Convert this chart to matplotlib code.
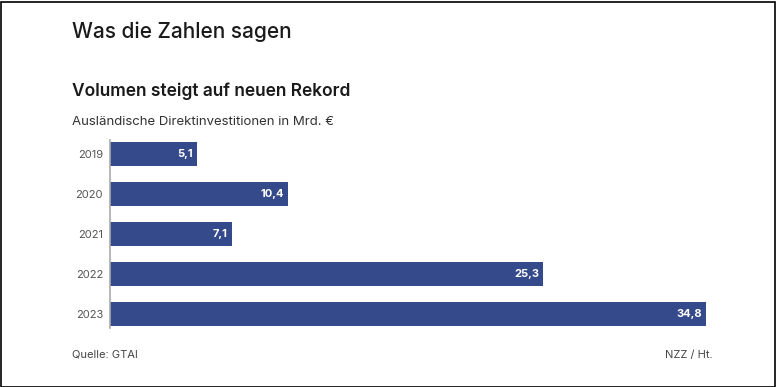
import matplotlib.pyplot as plt
from matplotlib.patches import Rectangle

years = ["2019", "2020", "2021", "2022", "2023"]
values = [5.1, 10.4, 7.1, 25.3, 34.8]
labels = ["5,1", "10,4", "7,1", "25,3", "34,8"]

plt.rcParams['font.family'] = ['Inter', 'DejaVu Sans']

W, H = 776, 387
fig = plt.figure(figsize=(W / 100, H / 100), dpi=100)

# axes in pixel coords
left, right, top, bottom = 110, 706, 140, 328
ax = fig.add_axes([left / W, 1 - bottom / H, (right - left) / W, (bottom - top) / H])

pos = list(range(len(years)))
ax.barh(pos, values, height=0.6, color="#344a8b")
ax.set_xlim(0, 34.8)
ax.set_ylim(4.35, -0.35)

for p, v, lab in zip(pos, values, labels):
    ax.text(v - 0.25, p, lab, color="white", fontsize=8, fontweight="bold",
            ha="right", va="center")

ax.set_yticks(pos)
ax.set_yticklabels(years, fontsize=8, color="#555555")
ax.tick_params(axis="y", length=0, pad=5)
ax.set_xticks([])
for s in ["top", "right", "bottom"]:
    ax.spines[s].set_visible(False)
ax.spines["left"].set_color("#aaaaaa")
ax.spines["left"].set_linewidth(1.2)

fig.text(72 / W, 1 - 32 / H, "Was die Zahlen sagen", fontsize=15, color="#1a1a1a",
         va="center", ha="left", fontweight="medium")
fig.text(72 / W, 1 - 91 / H, "Volumen steigt auf neuen Rekord", fontsize=12.5,
         color="#1a1a1a", va="center", ha="left", fontweight="semibold")
fig.text(72 / W, 1 - 122 / H, "Ausländische Direktinvestitionen in Mrd. €", fontsize=9.5,
         color="#333333", va="center", ha="left")
fig.text(72 / W, 1 - 355 / H, "Quelle: GTAI", fontsize=8, color="#444444",
         va="center", ha="left")
fig.text(713 / W, 1 - 355 / H, "NZZ / Ht.", fontsize=8, color="#444444",
         va="center", ha="right")

fig.patches.append(Rectangle((0.5 / W, 0.5 / H), 1 - 2 / W, 1 - 2 / H,
                             transform=fig.transFigure, fill=False,
                             edgecolor="black", linewidth=1.2))

fig.savefig("out.png", dpi=100)
